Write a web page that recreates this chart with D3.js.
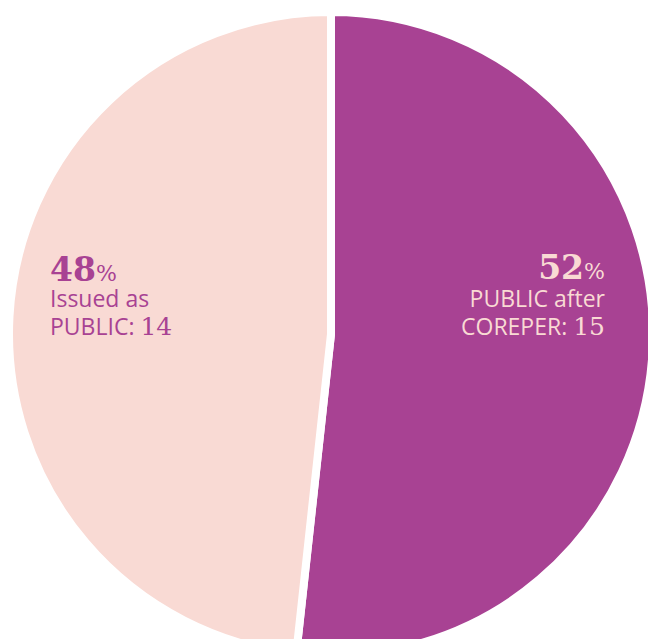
<!DOCTYPE html>
<html><head><meta charset="utf-8">
<script src="https://cdn.jsdelivr.net/npm/d3@7"></script>
<style>html,body{margin:0;padding:0;background:#fff;}svg{display:block;}</style>
</head><body>
<svg id="chart" width="648" height="639"></svg>
<script>
const categories = ["PUBLIC after COREPER", "Issued as PUBLIC"];
const counts = [15, 14];
const percents = [52, 48];
const labelLines = [["PUBLIC after", "COREPER: "], ["Issued as", "PUBLIC: "]];
const colors = ["#a84293", "#f9dad4"];
const textColors = ["#f9dad4", "#a84293"];

const svg = d3.select("#chart");
const cx = 331, cy = 334, r = 322;
const g = svg.append("g").attr("transform", `translate(${cx},${cy})`);
const pie = d3.pie().sort(null).value(d => d)(counts);
const arc = d3.arc().innerRadius(0).outerRadius(r);
g.selectAll("path").data(pie).enter().append("path")
  .attr("d", arc).attr("fill", (d,i) => colors[i])
  .attr("stroke", "#fff").attr("stroke-width", 8).attr("stroke-linejoin", "miter");

const labelPos = [{x: 605, y: 279, anchor: "end"}, {x: 50, y: 281, anchor: "start"}];
const serif = "'DejaVu Serif', serif";
const sans = "'Open Sans', 'Noto Sans', sans-serif";
categories.forEach((c, i) => {
  const p = labelPos[i];
  const t = svg.append("text").attr("x", p.x).attr("y", p.y).attr("text-anchor", p.anchor)
    .attr("fill", textColors[i]);
  t.append("tspan").attr("font-family", serif).attr("font-weight", "bold").attr("font-size", 33).text(percents[i]);
  t.append("tspan").attr("font-family", serif).attr("font-size", 22).text("%");
  svg.append("text").attr("x", p.x).attr("y", 307).attr("text-anchor", p.anchor)
    .attr("fill", textColors[i]).attr("font-family", sans).attr("font-size", 23).text(labelLines[i][0]);
  const t3 = svg.append("text").attr("x", p.x).attr("y", 335).attr("text-anchor", p.anchor)
    .attr("fill", textColors[i]);
  t3.append("tspan").attr("font-family", sans).attr("font-size", 23).text(labelLines[i][1]);
  t3.append("tspan").attr("font-family", serif).attr("font-size", 25).text(counts[i]);
});
</script>
</body></html>
